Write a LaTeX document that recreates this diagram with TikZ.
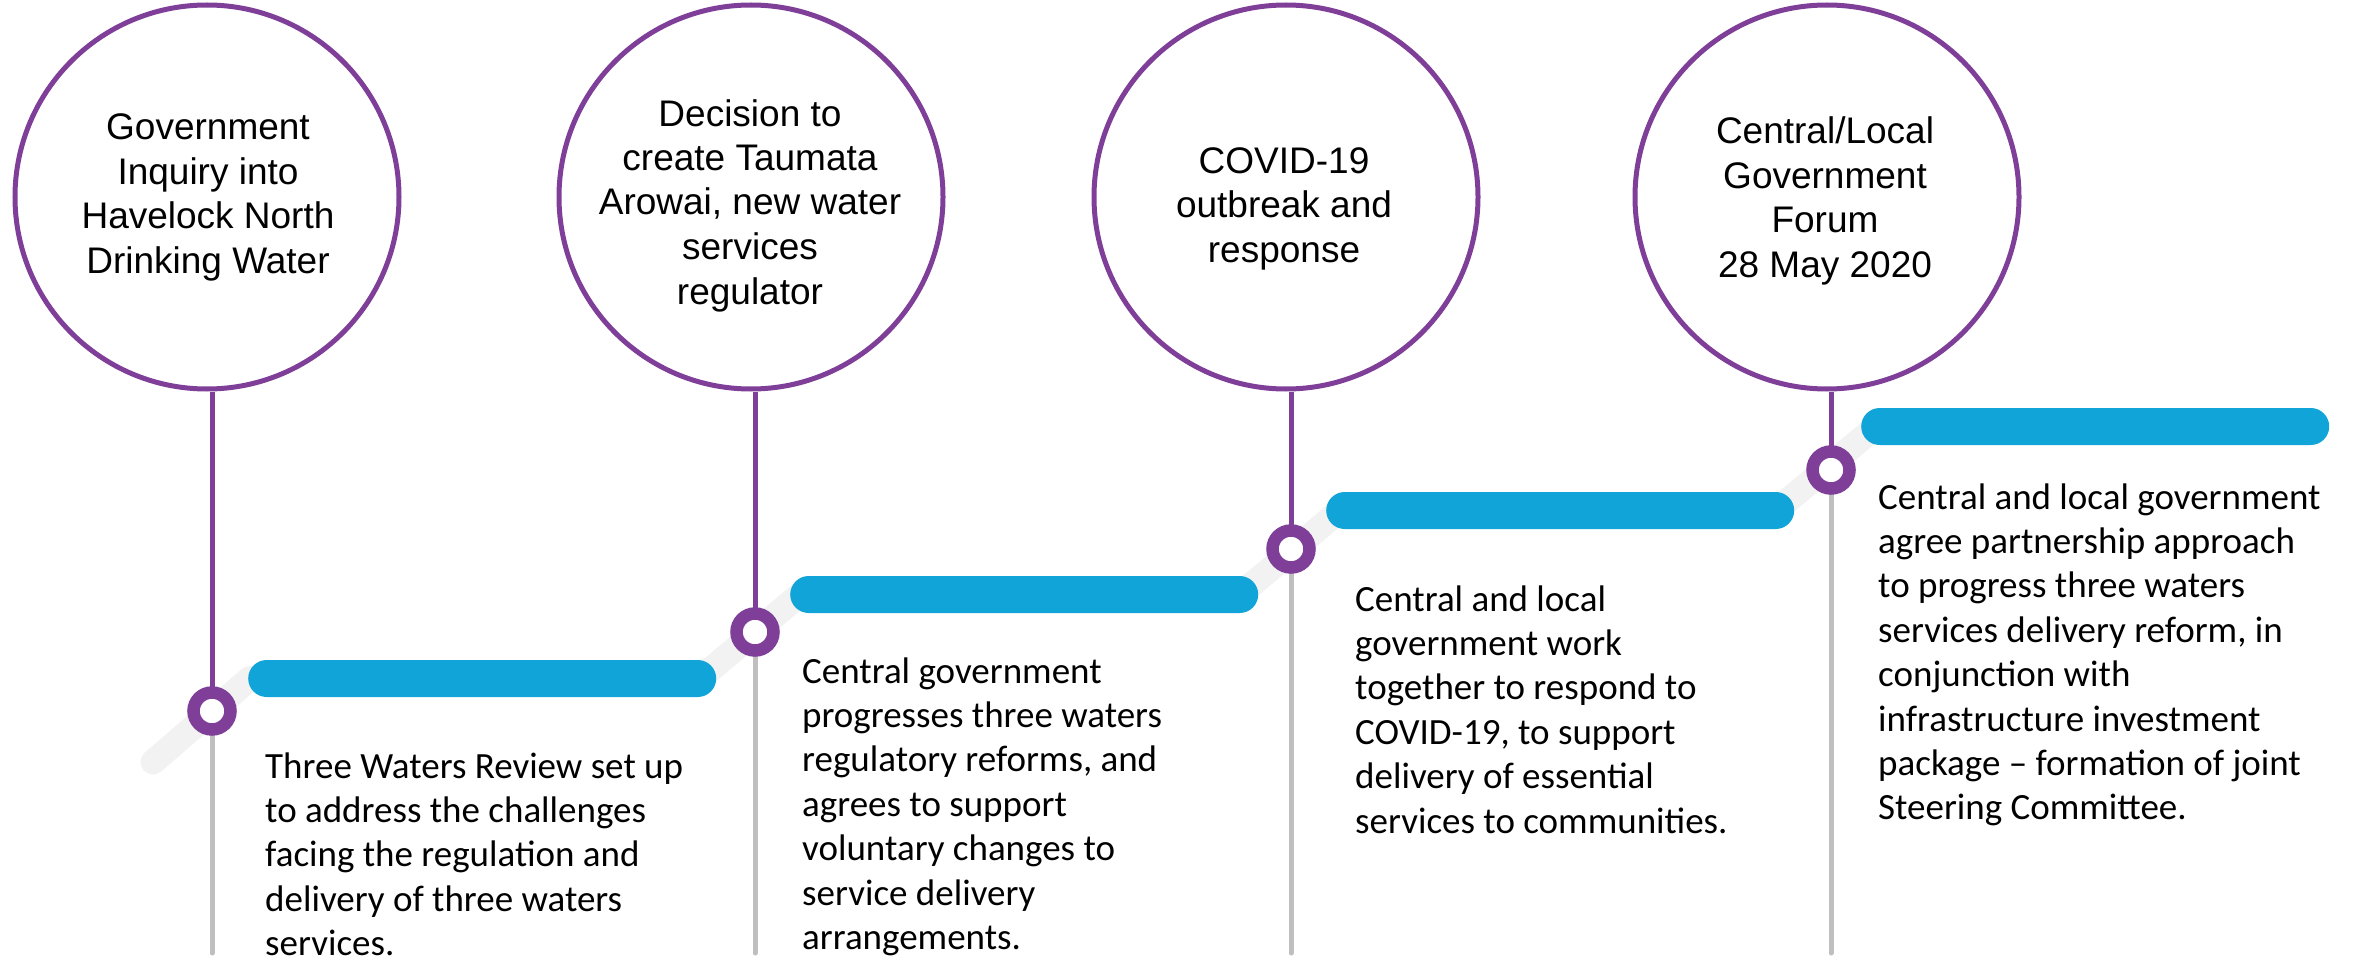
\documentclass[tikz,border=0pt]{standalone}
\usepackage{fontspec}
\newfontfamily\eventfont{Liberation Sans}
\newfontfamily\notefont{Carlito}
\definecolor{plum}{RGB}{127,63,152}
\definecolor{sky}{RGB}{16,164,216}
\definecolor{mist}{RGB}{242,242,242}
\definecolor{ash}{RGB}{191,191,191}

\begin{document}
\begin{tikzpicture}[x=1pt, y=-1pt,
event/.style = {shape=circle, draw=plum, line width=5pt,
	minimum size=384pt, inner sep=0pt},
caption/.style = {align=center, inner sep=0pt, anchor=base,
	font=\eventfont\fontsize{37}{44.5}\selectfont},
note/.style = {align=left, inner sep=0pt, anchor=base west,
	font=\notefont\fontsize{37}{44.4}\selectfont},
ring/.style = {shape=circle, draw=plum, fill=white, line width=12.5pt,
	minimum size=37pt, inner sep=0pt},
bar/.style = {shape=rectangle, fill=sky, rounded corners=18.5pt,
	minimum width=468pt, minimum height=37pt, anchor=west},
track/.style = {draw=mist, line width=25pt, line cap=round, line join=round},
drop/.style = {draw=ash, line width=5pt, line cap=round},
stem/.style = {draw=plum, line width=5pt}]
\useasboundingbox (0,0) rectangle (2359,960);

% milestones on the track
\coordinate (p1) at (212,711);
\coordinate (p2) at (755,632);
\coordinate (p3) at (1291,549);
\coordinate (p4) at (1831,470);

% grey stepped track
\draw[track] (153,762) -- (250,678.5) -- (700,678.5) -- (800,594.5) -- (1240,594.5)
	-- (1340,510.5) -- (1776,510.5) -- (1876,426.5) -- (2300,426.5);

% event circles (anchor base = last line)
\node[event] (c1) at (207,197) {};
\node[event] (c2) at (751,197) {};
\node[event] (c3) at (1286,197) {};
\node[event] (c4) at (1827,197) {};
\node[caption] (l1) at (208,273) {Government\\Inquiry into\\Havelock North\\Drinking Water};
\node[caption] (l2) at (750,304) {Decision to\\create Taumata\\Arowai, new water\\services\\regulator};
\node[caption] (l3) at (1284,262) {COVID-19\\outbreak and\\response};
\node[caption] (l4) at (1825,277) {Central/Local\\Government\\Forum\\28 May 2020};

% stems
\foreach \i in {1,...,4} {
	\coordinate (e\i) at (p\i |- 0,953);
	\draw[drop] (p\i) -- (e\i);
	\draw[stem] (p\i |- c\i.south) -- (p\i);
}

% blue bars
\node[bar] (b1) at (248,678.5) {};
\node[bar] (b2) at (790,594.5) {};
\node[bar] (b3) at (1326,510.5) {};
\node[bar] (b4) at (1861,426.5) {};

% rings
\foreach \i in {1,...,4}
	\node[ring] (r\i) at (p\i) {};

% notes
\node[note] (t1) at (265,955.6) {Three Waters Review set up\\to address the challenges\\facing the regulation and\\delivery of three waters\\services.};
\node[note] (t2) at (802,949.4) {Central government\\progresses three waters\\regulatory reforms, and\\agrees to support\\voluntary changes to\\service delivery\\arrangements.};
\node[note] (t3) at (1355,833) {Central and local\\government work\\together to respond to\\COVID-19, to support\\delivery of essential\\services to communities.};
\node[note] (t4) at (1878,819.8) {Central and local government\\agree partnership approach\\to progress three waters\\services delivery reform, in\\conjunction with\\infrastructure investment\\package – formation of joint\\Steering Committee.};
\end{tikzpicture}
\end{document}
